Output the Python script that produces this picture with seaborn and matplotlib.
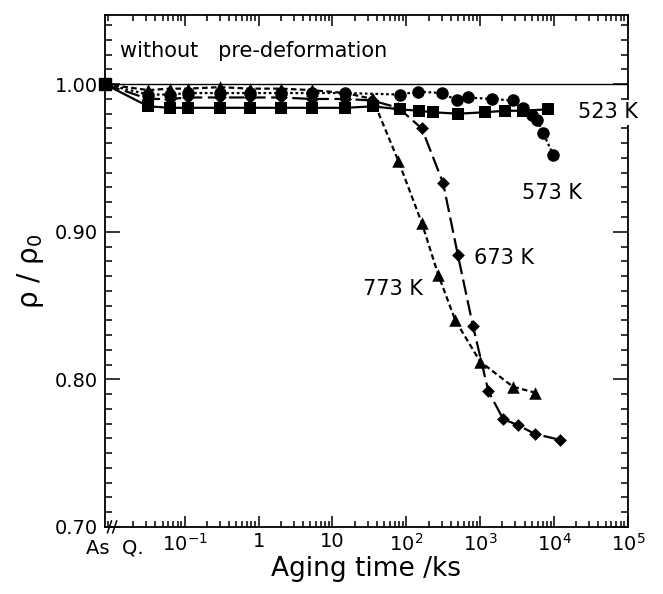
import matplotlib
matplotlib.use("Agg")
import matplotlib.pyplot as plt
import matplotlib.ticker as mticker
import numpy as np
import pandas as pd
import seaborn as sns

# aging times (ks); the as-quenched state sits on the left edge of the log axis
AS_Q = 10 ** -2.084
early_t = [0.032, 0.063, 0.11, 0.30, 0.76, 2.0, 5.2, 15]

t_523 = early_t + [35, 81, 150, 230, 500, 1170, 2200, 3800, 8300]
r_523 = [0.985, 0.984, 0.984, 0.984, 0.984, 0.984, 0.984, 0.984,
         0.985, 0.983, 0.982, 0.981, 0.980, 0.981, 0.982, 0.982, 0.983]

t_573 = early_t + [81, 145, 300, 490, 680, 1440, 2760, 3800, 5000, 5900, 7100, 9800]
r_573 = [0.993, 0.993, 0.994, 0.994, 0.994, 0.994, 0.994, 0.994,
         0.993, 0.995, 0.994, 0.989, 0.991, 0.990, 0.989, 0.984, 0.979, 0.976, 0.967, 0.952]

t_673 = early_t + [34, 78, 162, 315, 500, 800, 1290, 2050, 3240, 5500, 12000]
r_673 = [0.990, 0.990, 0.991, 0.991, 0.991, 0.991, 0.990, 0.990,
         0.989, 0.984, 0.970, 0.933, 0.884, 0.836, 0.792, 0.773, 0.769, 0.763, 0.759]

t_773 = early_t + [35, 78, 162, 270, 460, 1000, 2780, 5500]
r_773 = [0.996, 0.997, 0.997, 0.998, 0.997, 0.997, 0.996, 0.994,
         0.990, 0.948, 0.906, 0.871, 0.840, 0.812, 0.795, 0.791]

series = [
    ("523 K", t_523, r_523, "s", 8.5, "-"),
    ("573 K", t_573, r_573, "o", 9, (0, (1.2, 1.2))),
    ("673 K", t_673, r_673, "D", 6.5, (0, (7, 2.5))),
    ("773 K", t_773, r_773, "^", 9, (0, (2.5, 1.5))),
]

sns.set_theme(style="ticks")
plt.rcParams["font.family"] = ["DejaVu Sans"]
plt.rcParams["mathtext.default"] = "regular"
plt.rcParams["text.color"] = "black"
plt.rcParams["axes.labelcolor"] = "black"

fig = plt.figure(figsize=(6.63, 5.94), dpi=100)
ax = fig.add_axes([0.158, 0.113, 0.789, 0.862])

for name, t, r, mk, ms, ls in series:
    line_df = pd.DataFrame({"t": [AS_Q] + t, "r": [1.0] + r})
    sns.lineplot(data=line_df, x="t", y="r", ax=ax, color="black", lw=1.6,
                 linestyle=ls, estimator=None, sort=False, legend=False)
    pts = pd.DataFrame({"t": t, "r": r})
    sns.scatterplot(data=pts, x="t", y="r", ax=ax, color="black", marker=mk,
                    s=ms ** 2, edgecolor="black", linewidth=0, legend=False, zorder=3)

# as-quenched reference point
ax.plot([AS_Q], [1.0], marker="s", ms=9, color="black", clip_on=False, zorder=6)
ax.axhline(1.0, color="black", lw=1.0, zorder=1)

ax.set_xscale("log")
ax.set_xlim(AS_Q, 1e5)
ax.set_ylim(0.70, 1.047)

ax.xaxis.set_major_locator(mticker.FixedLocator([1e-1, 1, 10, 1e2, 1e3, 1e4, 1e5]))
ax.xaxis.set_major_formatter(mticker.FixedFormatter(
    ["10$^{-1}$", "1", "10", "10$^2$", "10$^3$", "10$^4$", "10$^5$"]))
ax.xaxis.set_minor_locator(mticker.LogLocator(base=10, subs=np.arange(2, 10), numticks=20))
ax.xaxis.set_minor_formatter(mticker.NullFormatter())
ax.yaxis.set_major_locator(mticker.FixedLocator([0.70, 0.80, 0.90, 1.00]))
ax.yaxis.set_major_formatter(mticker.FormatStrFormatter("%.2f"))
ax.yaxis.set_minor_locator(mticker.MultipleLocator(0.01))

ax.tick_params(which="both", direction="in", top=True, right=True, colors="black",
               labelsize=14, width=1.1)
ax.tick_params(axis="x", which="major", length=8, pad=4)
ax.tick_params(axis="x", which="minor", length=4)
ax.tick_params(axis="y", which="major", length=11, pad=5)
ax.tick_params(axis="y", which="minor", length=5)
for sp in ax.spines.values():
    sp.set_linewidth(1.3)
    sp.set_color("black")

ax.set_xlabel("Aging time /ks", fontsize=19, labelpad=1)
ax.set_ylabel(r"$\rho$ / $\rho_0$", fontsize=20, labelpad=6)

ax.text(0.02, -0.022, "As  Q.", transform=ax.transAxes, ha="center", va="top", fontsize=14)
# axis break marks
for dx in (0.011, 0.021):
    ax.plot([dx - 0.006, dx + 0.002], [-0.012, 0.012], transform=ax.transAxes,
            color="black", lw=1.1, clip_on=False)

ax.text(0.03, 0.93, "without   pre-deformation", transform=ax.transAxes,
        fontsize=15, ha="left", va="center")
lab = dict(fontsize=15, color="black", va="center", ha="left")
ax.text(2.1e4, 0.981, "523 K", bbox=dict(facecolor="white", edgecolor="none", pad=2),
        zorder=10, clip_on=False, **lab)
ax.text(3.7e3, 0.926, "573 K", **lab)
ax.text(8.3e2, 0.882, "673 K", **lab)
ax.text(2.6e1, 0.861, "773 K", **lab)

fig.savefig("out.png", dpi=100)
